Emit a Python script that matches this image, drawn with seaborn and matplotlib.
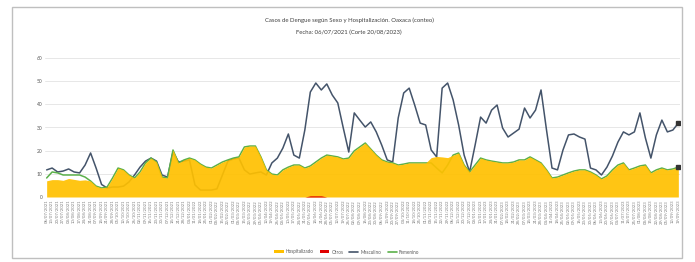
import numpy as np
import pandas as pd
import matplotlib
matplotlib.use("Agg")
import matplotlib.pyplot as plt
from matplotlib.patches import Rectangle, Patch
from matplotlib.lines import Line2D
import seaborn as sns

# ---------------- data ----------------
title_line1 = "Casos de Dengue según Sexo y Hospitalización. Oaxaca (conteo)"
title_line2 = "Fecha: 06/07/2021 (Corte 20/08/2023)"
series_names = ["Hospitalizado", "Otros", "Masculino", "Femenino"]

masculino = [11.7, 12.5, 10.8, 11.2, 12.1, 10.8, 10.4, 13.8, 19.0, 12.5,
             5.4, 3.9, 4.3, 4.3, 4.7, 6.5, 9.5, 12.9, 15.5, 16.8,
             15.5, 9.5, 8.6, 19.4, 15.1, 15.5, 16.0, 5.2, 3.0, 3.0,
             3.0, 3.5, 9.5, 15.5, 16.4, 16.8, 11.7, 9.9, 10.4, 10.8,
             9.5, 14.7, 16.8, 21.1, 27.2, 18.1, 16.8, 28.9, 45.3, 49.2,
             46.2, 48.8, 44.0, 40.6, 29.8, 19.4, 36.3, 33.2, 30.2, 32.4,
             28.1, 22.4, 16.0, 15.1, 34.1, 44.9, 47.0, 39.7, 31.9, 31.1,
             20.3, 17.3, 47.0, 49.2, 41.9, 31.1, 18.1, 10.8, 22.4, 34.5,
             31.9, 37.5, 39.7, 29.8, 25.9, 27.6, 29.3, 38.4, 34.1, 37.5,
             46.2, 28.9, 12.5, 11.7, 20.3, 26.8, 27.2, 25.9, 25.0, 12.5,
             11.7, 9.5, 12.9, 17.7, 23.7, 28.1, 26.8, 28.1, 36.3, 25.5,
             16.8, 26.8, 33.2, 28.1, 28.9, 31.9]

femenino = [8.2, 10.8, 10.4, 9.5, 9.5, 9.5, 9.5, 8.6, 6.9, 4.7,
            3.9, 4.3, 8.2, 12.5, 11.7, 9.5, 8.2, 10.8, 14.7, 16.8,
            15.1, 8.6, 8.2, 20.3, 14.7, 16.0, 16.8, 16.0, 14.2, 12.9,
            12.5, 13.8, 15.1, 16.0, 16.8, 17.3, 21.6, 22.0, 22.0, 17.3,
            11.7, 9.9, 9.5, 11.7, 12.9, 13.8, 13.8, 12.5, 13.4, 15.1,
            16.8, 18.1, 17.7, 17.3, 16.4, 16.8, 19.9, 21.6, 23.3, 20.7,
            18.1, 16.0, 15.1, 14.7, 13.8, 14.2, 14.7, 14.7, 14.7, 14.7,
            14.7, 12.5, 10.4, 13.8, 18.1, 19.0, 13.8, 10.8, 13.8, 16.8,
            16.0, 15.5, 15.1, 14.7, 14.7, 15.1, 16.0, 16.0, 17.3, 16.0,
            14.7, 11.7, 8.2, 8.6, 9.5, 10.4, 11.2, 11.7, 11.7, 10.8,
            9.5, 7.8, 9.1, 11.7, 13.8, 14.7, 11.7, 12.5, 13.4, 13.8,
            10.4, 11.7, 12.5, 11.7, 12.1, 12.9]

hospitalizado = [7.0, 7.5, 7.5, 7.2, 8.0, 7.6, 7.2, 7.4, 6.9, 4.7,
                 3.9, 4.3, 8.2, 12.5, 11.7, 9.5, 8.2, 10.8, 14.7, 16.8,
                 15.1, 8.6, 8.2, 20.3, 14.7, 16.0, 16.8, 16.0, 14.2, 12.9,
                 12.5, 13.8, 15.1, 16.0, 16.8, 17.3, 21.6, 22.0, 22.0, 17.3,
                 11.7, 9.9, 9.5, 11.7, 12.9, 13.8, 13.8, 12.5, 13.4, 15.1,
                 16.8, 18.1, 17.7, 17.3, 16.4, 16.8, 19.9, 21.6, 23.3, 20.7,
                 18.1, 16.0, 15.1, 14.7, 13.8, 14.2, 14.7, 14.7, 14.7, 14.7,
                 17.0, 17.5, 17.3, 17.0, 18.1, 19.0, 13.8, 10.8, 13.8, 16.8,
                 16.0, 15.5, 15.1, 14.7, 14.7, 15.1, 16.0, 16.0, 17.3, 16.0,
                 14.7, 11.7, 8.2, 8.6, 9.5, 10.4, 11.2, 11.7, 11.7, 10.8,
                 9.5, 7.8, 9.1, 11.7, 13.8, 14.7, 11.7, 12.5, 13.4, 13.8,
                 10.4, 11.7, 12.5, 11.7, 12.1, 12.9]

otros = [0.0] * 48 + [0.5, 0.5, 0.5] + [0.0] * 65

y_ticks = [0, 10, 20, 30, 40, 50, 60]
fechas = pd.date_range("2021-07-06", periods=len(masculino), freq="7D")
x_labels = [d.strftime("%d/%m/%Y") for d in fechas]

# ---------------- style ----------------
sns.set_theme(style="white")
plt.rcParams["font.family"] = ["Lato", "DejaVu Sans"]

c_hosp = "#FFC000"
c_otros = "#E00000"
c_masc = "#44546A"
c_fem = "#5BB04A"

df = pd.DataFrame({
    "idx": np.arange(len(masculino)),
    "Masculino": masculino,
    "Femenino": femenino,
    "Hospitalizado": hospitalizado,
    "Otros": otros,
})

fig = plt.figure(figsize=(6.95, 2.62), dpi=100)
fig.patches.append(Rectangle((12 / 695, 4 / 262), 670 / 695, 251 / 262,
                             transform=fig.transFigure, fill=False,
                             edgecolor="#BFBFBF", linewidth=1.0))
ax = fig.add_axes([45 / 695, 1 - 197 / 262, (680 - 45) / 695, (197 - 58) / 262])

for t in y_ticks:
    ax.axhline(t, color="#E3E3E3", linewidth=0.6, zorder=0)

sns.lineplot(data=df, x="idx", y="Masculino", ax=ax, color=c_masc,
             linewidth=1.1, zorder=2)
sns.lineplot(data=df, x="idx", y="Femenino", ax=ax, color=c_fem,
             linewidth=1.1, zorder=2)
ax.fill_between(df["idx"], 0, df["Hospitalizado"], color=c_hosp,
                alpha=0.92, linewidth=0, zorder=3)
ax.fill_between(df["idx"], 0, df["Otros"], color=c_otros,
                linewidth=0, zorder=4)

last = len(masculino) - 1
ax.plot([last], [masculino[-1]], marker="s", markersize=2.5, color="#333333", zorder=5)
ax.plot([last], [femenino[-1]], marker="s", markersize=2.5, color="#333333", zorder=5)

ax.set_xlim(-0.3, last + 0.3)
ax.set_ylim(0, 60)
ax.set_yticks(y_ticks)
ax.set_yticklabels([str(t) for t in y_ticks], fontsize=3.5, color="#595959")
ax.set_xticks(df["idx"])
ax.set_xticklabels(x_labels, rotation=90, fontsize=3.1, color="#7F7F7F")
ax.tick_params(axis="both", length=0, pad=2)
ax.set_xlabel("")
ax.set_ylabel("")
for s in ax.spines.values():
    s.set_visible(False)
ax.axhline(0, color="#D0D0D0", linewidth=0.6, zorder=6)

fig.text(349 / 695, 1 - 20 / 262, title_line1, ha="center", va="center",
         fontsize=4.3, color="#404040")
fig.text(349 / 695, 1 - 32 / 262, title_line2, ha="center", va="center",
         fontsize=4.3, color="#404040")

handles = [Patch(facecolor=c_hosp, edgecolor="none"),
           Patch(facecolor=c_otros, edgecolor="none"),
           Line2D([0], [0], color=c_masc, linewidth=1.2),
           Line2D([0], [0], color=c_fem, linewidth=1.2)]
fig.legend(handles, series_names, loc="center", bbox_to_anchor=(347 / 695, 1 - 252 / 262),
           ncol=4, frameon=False, fontsize=3.3, handlelength=2.0, handleheight=0.6,
           columnspacing=1.3, handletextpad=0.5, labelcolor="#595959")

fig.savefig("out.png", dpi=100)
